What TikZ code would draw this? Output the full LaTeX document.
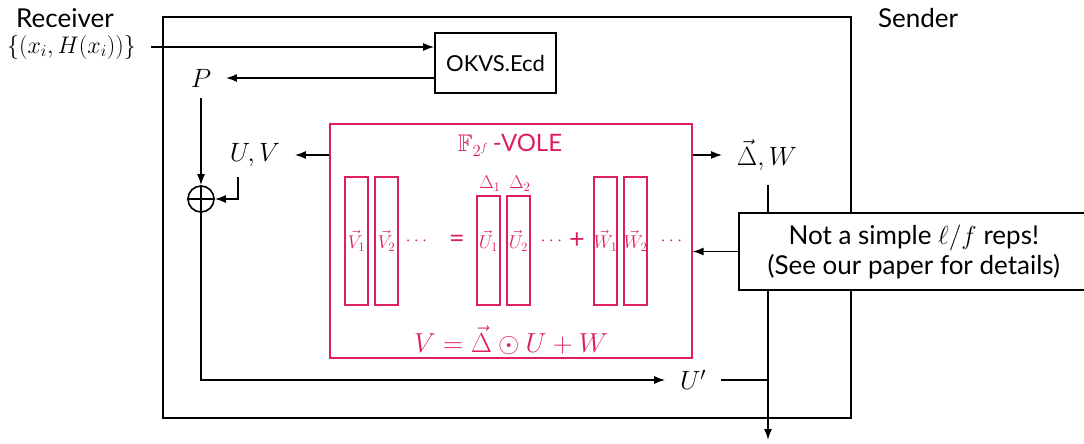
\RequirePackage{fix-cm}
\documentclass[tikz,border=0pt]{standalone}
\usepackage{amsmath,amssymb}
\usepackage[no-math]{fontspec}
\setmainfont{Lato}
\usetikzlibrary{arrows.meta,calc}
\definecolor{vole}{HTML}{DC1E62}
\begin{document}
\begin{tikzpicture}[x=1pt,y=-1pt,
  line width=1.6pt,
  arr/.style={-{Latex[length=11pt,width=8pt]}},
  txt/.style={font=\fontsize{26}{30}\selectfont, inner sep=0pt},
  mth/.style={font=\fontsize{26.5}{30}\selectfont, inner xsep=14pt, inner ysep=10pt},
  setlbl/.style={font=\fontsize{24}{28}\selectfont, inner sep=0pt},
  blkbox/.style={draw, fill=white, inner sep=0pt},
  volebox/.style={draw=vole, line width=1.1pt, inner sep=0pt},
  colbox/.style={draw=vole, line width=1.1pt, inner sep=0pt, minimum width=23pt},
  vtxt/.style={text=vole, font=\fontsize{24}{28}\selectfont, inner sep=0pt},
  vop/.style={text=vole, font=\fontsize{27}{30}\selectfont, inner sep=0pt},
  vsmall/.style={text=vole, font=\fontsize{18.5}{20}\selectfont, inner sep=0pt},
  vmth/.style={text=vole, font=\fontsize{27.5}{30}\selectfont, inner sep=0pt}
]
\useasboundingbox (0,0) rectangle (1084,444);
% outer sender box
\draw (163,17) rectangle (851,418);
\node[txt] (recv) at (65,18) {Receiver};
\node[txt] (send) at (918,18) {Sender};
\node[setlbl] (set) at (71.5,47) {$\{(x_i,H(x_i))\}$};
\node[blkbox, minimum width=121pt, minimum height=60pt, font=\fontsize{22}{26}\selectfont] (okvs) at (495.5,63) {OKVS.Ecd};
\node[mth] (P) at (201,78) {$P$};
\node[draw, circle, minimum size=26pt, inner sep=0pt] (op) at (201,199) {};
\node[mth] (UV) at (255,155) {$U,V$};
\node[mth] (Up) at (693,380) {$U'$};
\node[mth, inner ysep=14pt] (DW) at (767,155) {$\vec{\Delta},W$};
\coordinate (out) at (768,440);
% VOLE box
\node[volebox, minimum width=362pt, minimum height=234pt] (vole) at (511,241) {};
\node[vtxt] (title) at (510,145) {$\mathbb{F}_{2^f}$\,-VOLE};
\node[vmth] (eq) at (511,340) {$V=\vec{\Delta}\odot U+W$};
% columns
\node[colbox, minimum height=128pt] (v1) at (356.5,241) {};
\node[colbox, minimum height=128pt] (v2) at (386.5,241) {};
\node[colbox, minimum height=109pt] (u1) at (488.5,250.5) {};
\node[colbox, minimum height=109pt] (u2) at (518.5,250.5) {};
\node[colbox, minimum height=128pt] (w1) at (605.5,241) {};
\node[colbox, minimum height=128pt] (w2) at (635.5,241) {};
\node[vsmall] (v1l) at (356.5,241) {$\vec{V}_1$};
\node[vsmall] (v2l) at (386.5,241) {$\vec{V}_2$};
\node[vsmall] (vd) at (418,241) {$\cdots$};
\node[vop] (eqs) at (457,241) {=};
\node[vsmall] (u1l) at (488.5,241) {$\vec{U}_1$};
\node[vsmall] (u2l) at (518.5,241) {$\vec{U}_2$};
\node[vsmall] (d1) at (490,184) {$\Delta_1$};
\node[vsmall] (d2) at (520,184) {$\Delta_2$};
\node[vsmall] (ud) at (553,241) {$\cdots$};
\node[vop] (pl) at (577,241) {+};
\node[vsmall] (w1l) at (605.5,241) {$\vec{W}_1$};
\node[vsmall] (w2l) at (635.5,241) {$\vec{W}_2$};
\node[vsmall] (wd) at (673,241) {$\cdots$};
% connectors
\draw[arr] ([xshift=14pt]set.east) -- (set.east -| okvs.west);
\draw[arr] (P.east -| okvs.west) -- (P.east);
\draw[arr] (P.south) -- (op.north);
\draw (op.west) -- (op.east);
\draw[arr] (vole.west |- UV.east) -- (UV.east);
\draw[arr] ([xshift=-17pt]UV.south) |- (op.east);
\draw[arr] (op.north) -- (op.south) |- (Up.west);
\draw (Up.east) -- (Up.east -| out);
\draw[arr] (vole.east |- DW.west) -- (DW.west);
\draw[arr] (DW.south -| out) -- (out);
% note box
\node[blkbox, minimum width=350pt, minimum height=77pt, anchor=west, align=center, font=\fontsize{26}{30}\selectfont] (note) at (738,251.5) {Not a simple $\ell/f$ reps!\\(See our paper for details)};
\draw[arr] (note.west) -- (note.west -| vole.east);
\end{tikzpicture}
\end{document}
